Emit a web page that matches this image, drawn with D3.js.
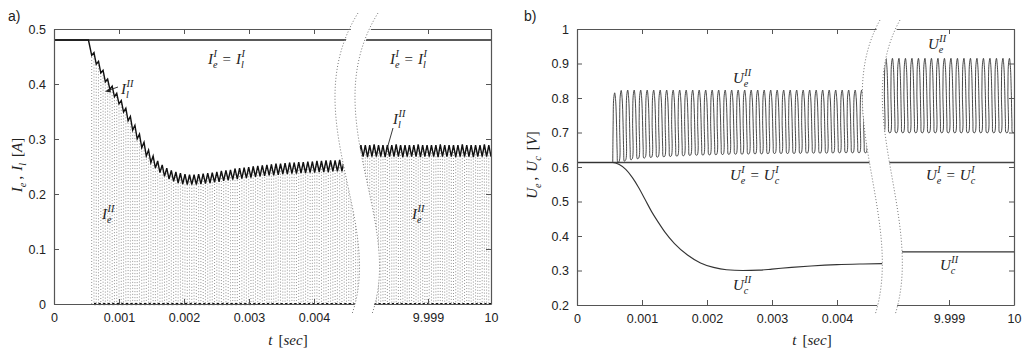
<!DOCTYPE html>
<html>
<head>
<meta charset="utf-8">
<script src="https://cdn.jsdelivr.net/npm/d3@7"></script>
<style>
body { margin: 0; background: #fff; }
svg { display: block; }
</style>
</head>
<body>
<script>
// ---------- data ----------
var Ta = 0.00007;               // ripple period of the currents [sec]
var Tb = 0.0001;                // period of the U_e spikes [sec]

// a) currents
var IlSteady = 0.48;            // I_e^I = I_l^I
var IlSteadyTimes = [0, 0.00053];
var IlLeftStart = 0.00058;      // first switch-on, left part
// I_l^II at every switch edge (on, off, on, off ...), half a period apart
var IlLeft = [.452,.457, .436,.441, .420,.425, .404,.409, .390,.396, .377,.383,
  .364,.370, .349,.356, .333,.341, .316,.325, .300,.309, .284,.294, .269,.280,
  .257,.269, .247,.260, .239,.253, .232,.247, .227,.243, .223,.240, .220,.238,
  .218,.236, .217,.235, .217,.235, .217,.236, .218,.237, .219,.238, .220,.239,
  .221,.240, .222,.242, .224,.243, .225,.244, .226,.246, .227,.247, .228,.248,
  .229,.249, .230,.250, .231,.251, .232,.252, .233,.253, .234,.254, .234,.255,
  .235,.255, .236,.256, .236,.257, .237,.257, .237,.258, .238,.258, .238,.259,
  .239,.259, .239,.260, .240,.260, .240,.261, .240,.261, .241,.261, .241,.262,
  .241,.262, .242,.262, .242,.263, .242,.263, .242];
var IlRightStart = 9.9979;
var IlRight = [.268,.289, .268,.289, .267,.289, .268,.290, .268,.289, .268,.289,
  .267,.289, .268,.289, .268,.290, .268,.289, .267,.289, .268,.289, .268,.289,
  .268,.290, .267,.289, .268,.289, .268,.289, .268,.289, .267,.290, .268,.289,
  .268,.289, .268,.289, .267,.289, .268,.290, .268,.289, .268,.289, .267,.289,
  .268,.289, .268,.290, .268,.289, .268];

// b) voltages
var UeSteady = 0.613;           // U_e^I = U_c^I
var UeLeftStart = 0.00055;
var UeLowLeft = [.613,.617,.621,.624,.626,.628,.629,.630,.631,.632,.633,.634,.635,
  .635,.636,.636,.637,.637,.638,.638,.638,.639,.639,.639,.640,.640,.640,.640,.640,
  .641,.641,.641,.641,.641,.642,.642,.642,.642,.642,.642];
var UeHighLeft = [.815,.822,.823,.823,.823,.823,.823,.823,.823,.823,.823,.823,.823,
  .823,.823,.823,.823,.823,.823,.823,.823,.823,.823,.823,.823,.823,.823,.823,.823,
  .823,.823,.823,.823,.823,.823,.823,.823,.823,.823,.823];
var UeRightStart = 9.9979;
var UeLowRight = [.700,.700,.700,.700,.700,.700,.700,.700,.700,.700,.700,
  .700,.700,.700,.700,.700,.700,.700,.700,.700,.700];
var UeHighRight = [.915,.915,.915,.915,.915,.915,.915,.915,.915,.915,.915,
  .915,.915,.915,.915,.915,.915,.915,.915,.915,.915];
// shape of one U_e^II spike: phase within the period -> fraction of the swing
var spikePhase = [0, 0.06, 0.15, 0.3, 0.45, 0.58, 0.68, 0.78];
var spikeLevel = [0, 0.55, 0.92, 1, 0.88, 0.55, 0.15, 0];

var UcTimesLeft = [0, 0.00055, 0.00065, 0.00075, 0.00085, 0.00095, 0.00105, 0.00115,
  0.00125, 0.00135, 0.0015, 0.0017, 0.0019, 0.0021, 0.0023, 0.00255, 0.0028, 0.003,
  0.0033, 0.0036, 0.004, 0.0044, 0.0047];
var UcLeft = [0.613, 0.613, 0.607, 0.593, 0.570, 0.540, 0.505, 0.470,
  0.440, 0.412, 0.378, 0.345, 0.322, 0.309, 0.302, 0.300, 0.301, 0.304,
  0.309, 0.313, 0.317, 0.319, 0.320];
var UcTimesRight = [9.9979, 10];
var UcRight = [0.354, 0.354];

var xTicksLeft = [0, 0.001, 0.002, 0.003, 0.004];
var xTicksRight = [9.999, 10];
var yTicksA = [0, 0.1, 0.2, 0.3, 0.4, 0.5];
var yTicksB = [0.2, 0.3, 0.4, 0.5, 0.6, 0.7, 0.8, 0.9, 1];

// ---------- drawing ----------
var serif = "'Liberation Serif', 'DejaVu Serif', serif";
var sans = "'Liberation Sans', Arial, 'DejaVu Sans', sans-serif";
var axisColor = "#555";

var svg = d3.select("body").append("svg")
  .attr("width", 1024)
  .attr("height", 355);
var defs = svg.append("defs");

function fmtX(d) { return d === 0 ? "0" : (d === 10 ? "10" : d3.format(".3f")(d)); }
function fmtY(d) { return d === 0 ? "0" : (d === 1 ? "1" : d3.format(".1f")(d)); }

// times at the switch edges, half a period apart
function edgeTimes(start, n, period) {
  return d3.range(n).map(function(i) { return start + i * period / 2; });
}

// label with italic math letters, sub- and superscripts
function mathText(parent, x, y, tokens, opts) {
  opts = opts || {};
  var size = opts.size || 15;
  var g = parent.append("g")
    .attr("transform", "translate(" + x + "," + y + ")" + (opts.rotate ? " rotate(" + opts.rotate + ")" : ""));
  var inner = g.append("g").attr("font-family", serif).attr("fill", "#222");
  var cx = 0;
  tokens.forEach(function(tk) {
    cx += tk.padL || 0;
    var t = inner.append("text").attr("x", cx)
      .attr("font-size", size)
      .attr("font-style", tk.up ? "normal" : "italic")
      .text(tk.b);
    cx += t.node().getComputedTextLength();
    var w = 0;
    if (tk.sup) {
      var s = inner.append("text").attr("x", cx + 0.5).attr("y", -size * 0.45)
        .attr("font-size", size * 0.68).attr("font-style", "italic").text(tk.sup);
      w = s.node().getComputedTextLength() + 0.5;
    }
    if (tk.sub) {
      var s2 = inner.append("text").attr("x", cx).attr("y", size * 0.28)
        .attr("font-size", size * 0.68).attr("font-style", "italic").text(tk.sub);
      w = Math.max(w, s2.node().getComputedTextLength());
    }
    cx += w + (tk.padR || 0);
  });
  if (opts.anchor === "middle") inner.attr("transform", "translate(" + (-cx / 2) + ",0)");
  return g;
}

function styleAxis(g) {
  g.select(".domain").attr("stroke", axisColor).attr("stroke-width", 1.2);
  g.selectAll(".tick line").attr("stroke", axisColor).attr("stroke-width", 1);
  g.selectAll(".tick text").attr("fill", "#222");
  g.attr("font-family", sans).attr("font-size", 12.5);
}

function panel(p) {
  var clipL = "clipL" + p.id, clipR = "clipR" + p.id;
  defs.append("clipPath").attr("id", clipL).append("path").attr("d", p.clipLeft);
  defs.append("clipPath").attr("id", clipR).append("path").attr("d", p.clipRight);

  var gl = svg.append("g").attr("clip-path", "url(#" + clipL + ")");
  var gr = svg.append("g").attr("clip-path", "url(#" + clipR + ")");
  p.drawData(gl, p.xL, "L");
  p.drawData(gr, p.xR, "R");

  var y = p.y, y0 = y.range()[0], y1 = y.range()[1];

  // left part frame
  gl.append("g").attr("transform", "translate(0," + y0 + ")")
    .call(d3.axisBottom(p.xL).tickValues(xTicksLeft).tickFormat(fmtX)
      .tickSizeInner(-5).tickSizeOuter(0).tickPadding(9)).call(styleAxis);
  gl.append("g").attr("transform", "translate(0," + y1 + ")")
    .call(d3.axisTop(p.xL).tickValues(xTicksLeft).tickFormat("")
      .tickSizeInner(-5).tickSizeOuter(0)).call(styleAxis);
  gl.append("g").attr("transform", "translate(" + p.xL.range()[0] + ",0)")
    .call(d3.axisLeft(y).tickValues(p.yTicks).tickFormat(fmtY)
      .tickSizeInner(-5).tickSizeOuter(0).tickPadding(8)).call(styleAxis);

  // right part frame
  gr.append("g").attr("transform", "translate(0," + y0 + ")")
    .call(d3.axisBottom(p.xR).tickValues(xTicksRight).tickFormat(fmtX)
      .tickSizeInner(-5).tickSizeOuter(0).tickPadding(9)).call(styleAxis);
  gr.append("g").attr("transform", "translate(0," + y1 + ")")
    .call(d3.axisTop(p.xR).tickValues(xTicksRight).tickFormat("")
      .tickSizeInner(-5).tickSizeOuter(0)).call(styleAxis);
  gr.append("g").attr("transform", "translate(" + p.xR.range()[1] + ",0)")
    .call(d3.axisRight(y).tickValues(p.yTicks).tickFormat("")
      .tickSizeInner(-5).tickSizeOuter(0)).call(styleAxis);

  // break marks
  p.breaks.forEach(function(d) {
    svg.append("path").attr("d", d)
      .attr("fill", "none").attr("stroke", "#777")
      .attr("stroke-width", 1).attr("stroke-dasharray", "1,2");
  });

  svg.append("text").attr("x", p.tagX).attr("y", 21)
    .attr("font-family", sans).attr("font-size", 14).attr("fill", "#222")
    .text(p.tag);
}

// ---------- a) ----------
var ya = d3.scaleLinear().domain([0, 0.5]).range([304, 29]);
var xaL = d3.scaleLinear().domain([0, 0.0047]).range([54, 54 + 0.0047 * 65000]);
var xaR = d3.scaleLinear().domain([9.998, 10]).range([365, 491]);

function drawCurrents(g, x, side) {
  var start = side === "L" ? IlLeftStart : IlRightStart;
  var vals = side === "L" ? IlLeft : IlRight;
  var ts = edgeTimes(start, vals.length, Ta);
  var line = d3.line().x(function(d) { return x(d[0]); }).y(function(d) { return ya(d[1]); });

  // I_e^II : equals I_l while switched on, zero otherwise
  var ie = [], zero = [];
  for (var i = 0; i + 1 < vals.length; i += 2) {
    ie.push([ts[i], 0], [ts[i], vals[i]], [ts[i + 1], vals[i + 1]], [ts[i + 1], 0]);
    var tNext = i + 2 < ts.length ? ts[i + 2] : ts[i + 1] + Ta / 2;
    ie.push([tNext, 0]);
    zero.push([[ts[i + 1], 0], [tNext, 0]]);
  }
  g.append("path").attr("d", line(ie))
    .attr("fill", "none").attr("stroke", "#888")
    .attr("stroke-width", 0.9).attr("stroke-dasharray", "1,2");
  zero.forEach(function(seg) {
    g.append("path").attr("d", line(seg))
      .attr("stroke", "#111").attr("stroke-width", 2.2);
  });

  // I^I
  var dom = x.domain();
  g.append("path").attr("d", line([[dom[0], IlSteady], [dom[1], IlSteady]]))
    .attr("stroke", "#222").attr("stroke-width", 1.3);

  // I_l^II
  var il = ts.map(function(t, i) { return [t, vals[i]]; });
  if (side === "L") {
    il = IlSteadyTimes.map(function(t) { return [t, IlSteady]; }).concat(il);
  }
  g.append("path").attr("d", line(il))
    .attr("fill", "none").attr("stroke", "#111").attr("stroke-width", 1.4);
}

panel({
  id: "a", tag: "a)", tagX: 8,
  xL: xaL, xR: xaR, y: ya, yTicks: yTicksA,
  clipLeft: "M0,0 L358,0 L358,17 C295,115 385,220 352,312 L352,355 L0,355 Z",
  clipRight: "M378,0 L378,17 C315,115 405,220 372,312 L372,355 L520,355 L520,0 Z",
  breaks: ["M358,13 C295,115 385,220 352,314", "M378,13 C315,115 405,220 372,314"],
  drawData: drawCurrents
});

// ---------- b) ----------
var yb = d3.scaleLinear().domain([0.2, 1]).range([305, 29]);
var xbL = d3.scaleLinear().domain([0, 0.0047]).range([577, 577 + 0.0047 * 65000]);
var xbR = d3.scaleLinear().domain([9.998, 10]).range([884, 1014]);

function drawVoltages(g, x, side) {
  var start = side === "L" ? UeLeftStart : UeRightStart;
  var lows = side === "L" ? UeLowLeft : UeLowRight;
  var highs = side === "L" ? UeHighLeft : UeHighRight;
  var line = d3.line().x(function(d) { return x(d[0]); }).y(function(d) { return yb(d[1]); });
  var dom = x.domain();

  // U^I
  g.append("path").attr("d", line([[dom[0], UeSteady], [dom[1], UeSteady]]))
    .attr("stroke", "#444").attr("stroke-width", 1.3);

  // U_c^II
  var ucT = side === "L" ? UcTimesLeft : UcTimesRight;
  var ucV = side === "L" ? UcLeft : UcRight;
  var ucLine = d3.line().x(function(d) { return x(d[0]); }).y(function(d) { return yb(d[1]); })
    .curve(d3.curveMonotoneX);
  g.append("path")
    .attr("d", ucLine(ucT.map(function(t, i) { return [t, ucV[i]]; })))
    .attr("fill", "none").attr("stroke", "#333").attr("stroke-width", 1.1);

  // U_e^II
  var ue = [];
  lows.forEach(function(lo, k) {
    var hi = highs[k];
    spikePhase.forEach(function(ph, j) {
      ue.push([start + (k + ph) * Tb, lo + spikeLevel[j] * (hi - lo)]);
    });
  });
  ue.push([start + lows.length * Tb, lows[lows.length - 1]]);
  var ueLine = d3.line().x(function(d) { return x(d[0]); }).y(function(d) { return yb(d[1]); })
    .curve(d3.curveCatmullRom.alpha(0.5));
  g.append("path").attr("d", ueLine(ue))
    .attr("fill", "none").attr("stroke", "#333").attr("stroke-width", 0.9);
}

panel({
  id: "b", tag: "b)", tagX: 524,
  xL: xbL, xR: xbR, y: yb, yTicks: yTicksB,
  clipLeft: "M520,0 L880,0 L880,23 C830,110 905,220 875,313 L875,355 L520,355 Z",
  clipRight: "M900,0 L900,23 C850,110 925,220 895,313 L895,355 L1024,355 L1024,0 Z",
  breaks: ["M880,20 C830,110 905,220 875,315", "M900,20 C850,110 925,220 895,315"],
  drawData: drawVoltages
});

// ---------- labels ----------
var eqA = [{ b: "I", sub: "e", sup: "I" }, { b: "=", up: true, padL: 5, padR: 5 }, { b: "I", sub: "l", sup: "I" }];
mathText(svg, 208, 64, eqA);
mathText(svg, 390, 64, eqA);
mathText(svg, 121, 94, [{ b: "I", sub: "l", sup: "II" }]);
mathText(svg, 393, 124, [{ b: "I", sub: "l", sup: "II" }]);
mathText(svg, 102, 219, [{ b: "I", sub: "e", sup: "II" }]);
mathText(svg, 412, 219, [{ b: "I", sub: "e", sup: "II" }]);

// pointer lines for I_l^II
svg.append("line").attr("x1", 118).attr("y1", 87).attr("x2", 108).attr("y2", 90.5)
  .attr("stroke", "#222").attr("stroke-width", 0.9);
svg.append("path").attr("d", "M105,91.5 L110,88 L111,92.5 Z").attr("fill", "#222");
svg.append("line").attr("x1", 393).attr("y1", 128).attr("x2", 387).attr("y2", 149)
  .attr("stroke", "#222").attr("stroke-width", 0.9);

var eqB = [{ b: "U", sub: "e", sup: "I" }, { b: "=", up: true, padL: 5, padR: 5 }, { b: "U", sub: "c", sup: "I" }];
mathText(svg, 733, 83, [{ b: "U", sub: "e", sup: "II" }]);
mathText(svg, 928, 49, [{ b: "U", sub: "e", sup: "II" }]);
mathText(svg, 730, 180, eqB);
mathText(svg, 926, 180, eqB);
mathText(svg, 733, 290, [{ b: "U", sub: "c", sup: "II" }]);
mathText(svg, 940, 270, [{ b: "U", sub: "c", sup: "II" }]);

// axis titles
var tTitle = [{ b: "t" }, { b: "[", up: true, padL: 6 }, { b: "sec" }, { b: "]", up: true }];
mathText(svg, 288, 345, tTitle, { anchor: "middle" });
mathText(svg, 812, 345, tTitle, { anchor: "middle" });
mathText(svg, 22, 165, [{ b: "I", sub: "e" }, { b: ",", up: true, padL: 3, padR: 5 },
  { b: "I", sub: "l" }, { b: "[", up: true, padL: 6 }, { b: "A" }, { b: "]", up: true }],
  { rotate: -90, anchor: "middle" });
mathText(svg, 537, 165, [{ b: "U", sub: "e" }, { b: ",", up: true, padL: 3, padR: 5 },
  { b: "U", sub: "c" }, { b: "[", up: true, padL: 6 }, { b: "V" }, { b: "]", up: true }],
  { rotate: -90, anchor: "middle" });
</script>
</body>
</html>
